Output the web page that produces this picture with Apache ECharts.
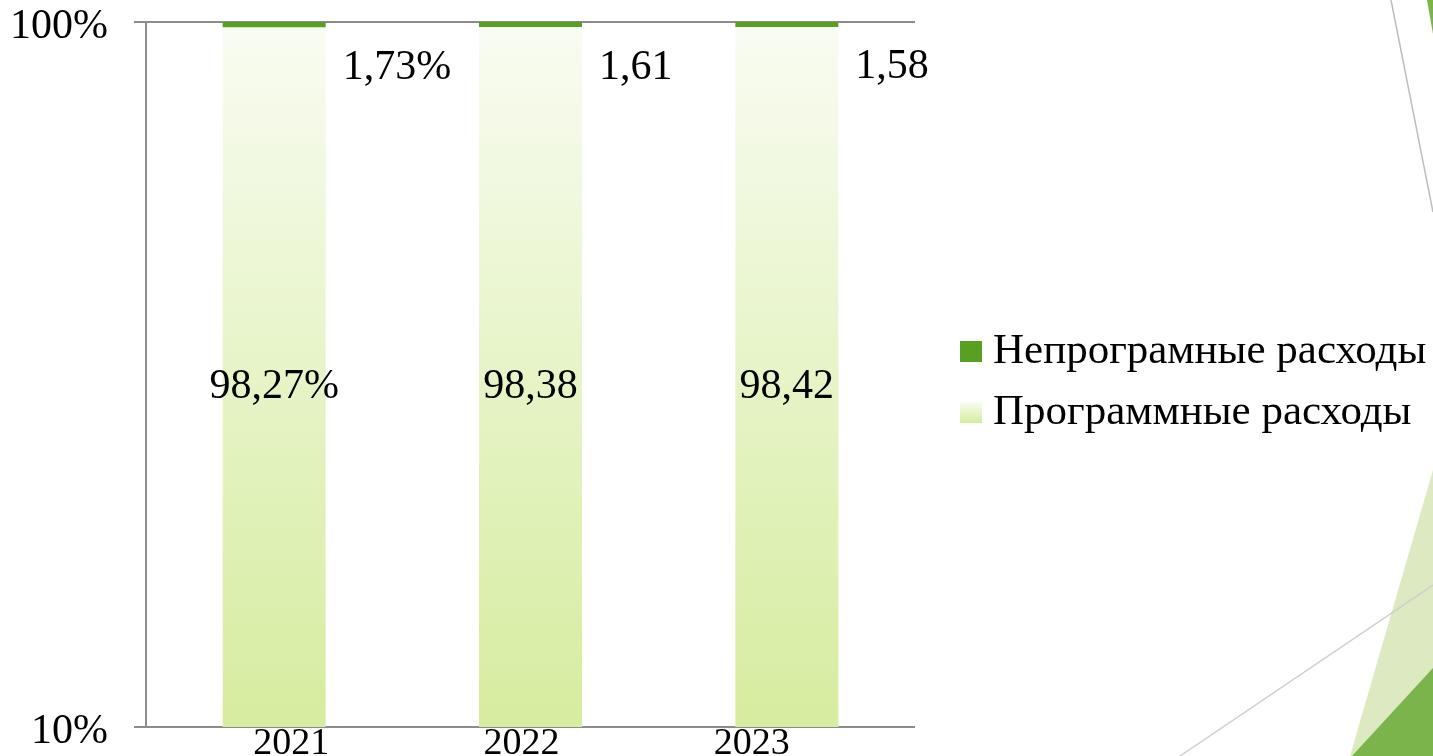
<!DOCTYPE html>
<html>
<head>
<meta charset="utf-8">
<script src="https://cdn.jsdelivr.net/npm/echarts@6/dist/echarts.min.js"></script>
<style>
  html, body { margin: 0; padding: 0; background: #fff; }
  #main { width: 1433px; height: 756px; }
</style>
</head>
<body>
<div id="main"></div>
<script>
// данные
const years = ["2021", "2022", "2023"];
const programShare = [98.27, 98.38, 98.42];
const nonProgramShare = [1.73, 1.61, 1.58];
const programName = "Программные расходы";
const nonProgramName = "Непрограмные расходы";

const myChart = echarts.init(document.getElementById("main"));
const font = '"Liberation Serif", "DejaVu Serif", serif';

// 98,27% для первого года, дальше без знака процента
function fmt(p) {
  return p.value.toFixed(2).replace(".", ",") + (p.dataIndex === 0 ? "%" : "");
}

myChart.setOption({
  animation: false,
  textStyle: { fontFamily: font },
  // декоративные треугольники темы слайда
  graphic: [
    { type: "polygon", shape: { points: [[1350, 756], [1433, 470], [1433, 756]] }, style: { fill: "#dce9c1" }, silent: true },
    { type: "polygon", shape: { points: [[1352, 756], [1433, 668], [1433, 756]] }, style: { fill: "#7ab44a" }, silent: true },
    { type: "polygon", shape: { points: [[1427, 0], [1433, 0], [1433, 34]] }, style: { fill: "#7ab44a" }, silent: true },
    { type: "line", shape: { x1: 1180, y1: 756, x2: 1433, y2: 585 }, style: { stroke: "#cfcfcf", lineWidth: 1.5 }, silent: true },
    { type: "line", shape: { x1: 1391, y1: 0, x2: 1433, y2: 212 }, style: { stroke: "#bdbdbd", lineWidth: 1.5 }, silent: true }
  ],
  legend: {
    orient: "vertical",
    left: 955,
    top: 325,
    itemWidth: 22,
    itemHeight: 21,
    itemGap: 18,
    icon: "rect",
    data: [nonProgramName, programName],
    textStyle: { fontFamily: font, fontSize: 43, color: "#000", padding: [0, 0, 0, 6] }
  },
  grid: [
    { left: 146, right: 518, top: 22, bottom: 29, outerBoundsMode: "none" },
    // подписи годов стоят немного сдвинутыми, как в оригинале
    { left: 176, right: 566, top: 22, bottom: 29, outerBoundsMode: "none" }
  ],
  xAxis: [
    {
      type: "category",
      gridIndex: 0,
      data: years,
      axisTick: { show: false },
      axisLine: { show: false },
      axisLabel: { show: false }
    },
    {
      type: "category",
      gridIndex: 1,
      data: years,
      axisTick: { show: false },
      axisLine: { show: false },
      axisLabel: { margin: -2, fontSize: 38, color: "#000", fontFamily: font }
    }
  ],
  yAxis: [
    {
      type: "log",
      gridIndex: 0,
      logBase: 10,
      min: 10,
      max: 100,
      axisLine: { show: true, lineStyle: { color: "#8c8c8c", width: 2 } },
      axisTick: { show: true, length: 12, lineStyle: { color: "#8c8c8c", width: 2 } },
      splitLine: { show: true, lineStyle: { color: "#8c8c8c", width: 2 } },
      axisLabel: {
        margin: 38,
        color: "#000",
        formatter: v => "{t|" + Math.round(v) + "%}",
        rich: {
          t: { fontSize: 42, fontFamily: font, color: "#000", padding: [9, 0, 0, 0] }
        }
      }
    },
    { type: "value", gridIndex: 1, show: false }
  ],
  series: [
    {
      name: programName,
      type: "bar",
      stack: "total",
      barWidth: 103,
      itemStyle: {
        color: new echarts.graphic.LinearGradient(0, 0, 0, 1, [
          { offset: 0, color: "#f9fcf2" },
          { offset: 0.5, color: "#e6f4c7" },
          { offset: 1, color: "#d6ec9f" }
        ])
      },
      label: {
        show: true,
        position: "inside",
        offset: [0, 10],
        fontSize: 42,
        color: "#000",
        fontFamily: font,
        formatter: fmt
      },
      data: programShare
    },
    {
      name: nonProgramName,
      type: "bar",
      stack: "total",
      barWidth: 103,
      itemStyle: { color: "#58a022" },
      label: {
        show: true,
        position: "right",
        distance: 17,
        offset: [0, 43],
        fontSize: 42,
        color: "#000",
        fontFamily: font,
        formatter: fmt
      },
      data: nonProgramShare
    }
  ]
});
</script>
</body>
</html>
